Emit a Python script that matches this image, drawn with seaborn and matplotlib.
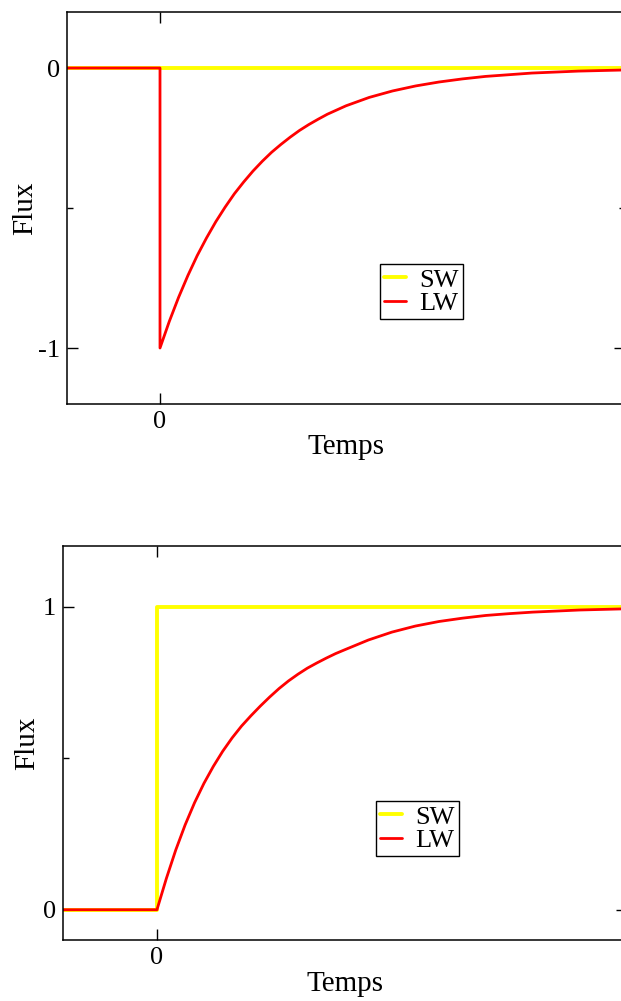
import numpy as np, pandas as pd, matplotlib
matplotlib.use("Agg")
import matplotlib.pyplot as plt; import seaborn as sns

sns.set_style("ticks")
plt.rcParams['font.family'] = ['Liberation Serif', 'DejaVu Serif']
plt.rcParams['axes.unicode_minus'] = False
for k in ["text.color", "axes.labelcolor", "xtick.color", "ytick.color"]:
    plt.rcParams[k] = "black"

# ── values (time in arbitrary units, step at t=0) ──
# top panel: sudden drop then relaxation
sw_top_t = [-1.0, 5.0]
sw_top_v = [0.0, 0.0]
lw_top_t = [-1.0, 0.0, 0.0, 0.1, 0.2, 0.3, 0.4, 0.5, 0.6, 0.7, 0.8, 0.9, 1.0, 1.1, 1.2, 1.3, 1.4,
            1.5, 1.6, 1.7, 1.8, 1.9, 2.0, 2.25, 2.5, 2.75, 3.0, 3.25, 3.5, 3.75, 4.0, 4.5, 5.0]
lw_top_v = [0.0, 0.0, -1.0, -0.905, -0.819, -0.741, -0.670, -0.607, -0.549, -0.497, -0.449,
            -0.407, -0.368, -0.333, -0.301, -0.273, -0.247, -0.223, -0.202, -0.183, -0.165,
            -0.150, -0.135, -0.105, -0.082, -0.064, -0.050, -0.039, -0.030, -0.024, -0.018,
            -0.011, -0.007]

# bottom panel: step up, LW catches up
sw_bot_t = [-1.0, 0.0, 0.0, 5.0]
sw_bot_v = [0.0, 0.0, 1.0, 1.0]
lw_bot_t = [-1.0, 0.0, 0.1, 0.2, 0.3, 0.4, 0.5, 0.6, 0.7, 0.8, 0.9, 1.0, 1.1, 1.2, 1.3, 1.4,
            1.5, 1.6, 1.7, 1.8, 1.9, 2.0, 2.25, 2.5, 2.75, 3.0, 3.25, 3.5, 3.75, 4.0, 4.5, 5.0]
lw_bot_v = [0.0, 0.0, 0.103, 0.197, 0.280, 0.353, 0.417, 0.473, 0.523, 0.567, 0.606, 0.640,
            0.672, 0.702, 0.730, 0.755, 0.777, 0.797, 0.814, 0.830, 0.845, 0.858, 0.890,
            0.916, 0.936, 0.951, 0.962, 0.971, 0.977, 0.982, 0.989, 0.993]

x_ticks = [0]
top_major, top_minor = [-1, 0], [-0.5]
bot_major, bot_minor = [0, 1], [0.5]


def panel(ax, sw_t, sw_v, lw_t, lw_v, ylim, major, minor, leg_xy, ylab_x, xlab_y):
    sns.lineplot(x=sw_t, y=sw_v, ax=ax, color="#ffff00", lw=2.8, estimator=None, sort=False, label="SW")
    sns.lineplot(x=lw_t, y=lw_v, ax=ax, color="#ff0000", lw=2.0, estimator=None, sort=False, label="LW")
    ax.set_xlim(-1, 5); ax.set_ylim(*ylim)
    ax.set_xticks(x_ticks); ax.set_yticks(major); ax.set_yticks(minor, minor=True)
    ax.tick_params(which="both", direction="in", top=True, right=True, width=1, color="black")
    ax.tick_params(which="major", length=8, labelsize=19, pad=5)
    ax.tick_params(which="minor", length=4)
    for s in ax.spines.values():
        s.set_color("black"); s.set_linewidth(1.1)
    ax.set_xlabel("Temps", fontsize=21); ax.set_ylabel("Flux", fontsize=21)
    ax.yaxis.set_label_coords(ylab_x, 0.5); ax.xaxis.set_label_coords(0.5, xlab_y)
    ax.legend(loc="center", bbox_to_anchor=leg_xy, frameon=True, fancybox=False, edgecolor="black",
              framealpha=1, fontsize=19, handlelength=0.85, handletextpad=0.5, labelspacing=0.0,
              borderpad=0.15, borderaxespad=0).get_frame().set_linewidth(1.0)


fig = plt.figure(figsize=(6.21, 10.01), dpi=100)
ax1 = fig.add_axes([0.1079, 0.5964, 0.8985, 0.3916])
ax2 = fig.add_axes([0.1014, 0.0609, 0.908, 0.3936])

panel(ax1, sw_top_t, sw_top_v, lw_top_t, lw_top_v, (-1.2, 0.2), top_major, top_minor,
      (0.635, 0.287), -0.052, -0.0765)
panel(ax2, sw_bot_t, sw_bot_v, lw_bot_t, lw_bot_v, (-0.1, 1.2), bot_major, bot_minor,
      (0.628, 0.283), -0.041, -0.0787)

plt.savefig("out.png", dpi=100); plt.close()
